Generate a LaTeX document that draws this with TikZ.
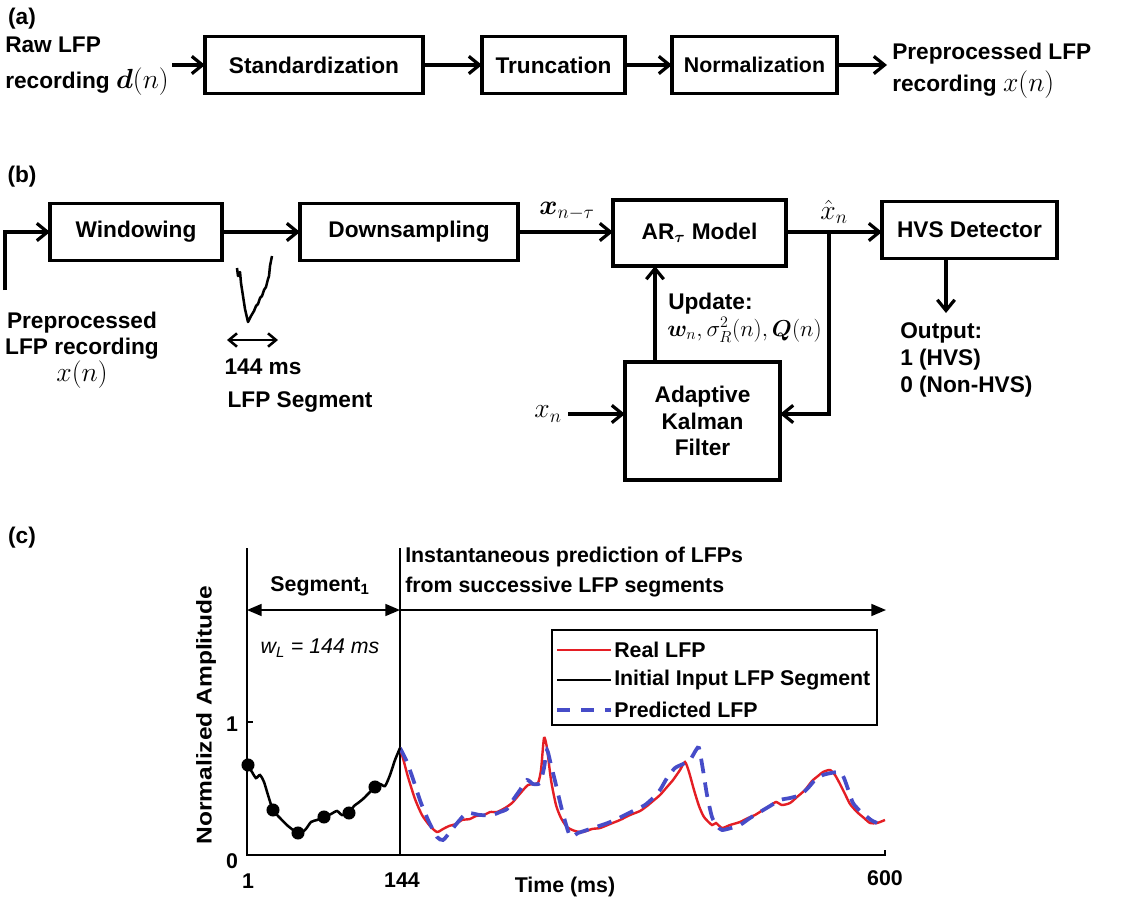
\documentclass[tikz,border=0pt]{standalone}
\usepackage{amsmath,bm}
\usepackage{fontspec}
\setmainfont{Liberation Sans}
\usetikzlibrary{arrows.meta,calc}
\definecolor{lfpred}{RGB}{228,30,36}
\definecolor{lfpblue}{RGB}{70,76,200}
\tikzset{
  blk/.style={draw, line width=2.4pt, inner sep=0pt, outer sep=0pt, font=\fontsize{17}{20}\selectfont\bfseries},
  arr/.style={line width=2.4pt, -{Straight Barb[length=8pt,width=13pt]}},
  lbl/.style={inner sep=0pt, font=\fontsize{17}{20}\selectfont\bfseries},
  lblc/.style={inner sep=0pt, font=\fontsize{16}{19}\selectfont\bfseries},
  mth/.style={inner sep=0pt, font=\fontsize{20}{22}\selectfont},
  axisline/.style={line width=1.2pt},
  tri/.style={line width=1.2pt, -{Triangle[length=11pt,width=9pt]}},
  dtri/.style={line width=1.2pt, {Triangle[length=11pt,width=9pt]}-{Triangle[length=11pt,width=9pt]}},
  realc/.style={lfpred, line width=1.8pt},
  predc/.style={lfpblue, line width=2.8pt, dash pattern=on 11pt off 7pt},
  inic/.style={black, line width=1.9pt}
}
\begin{document}
\begin{tikzpicture}[x=0.75pt,y=-0.75pt]
\useasboundingbox (0,0) rectangle (1142,903);
\fill[white] (0,0) rectangle (1142,903);

% ---------------- (a)
\node[lbl] (la) at (22,19) {(a)};
\node[lbl, align=left, anchor=west, font=\fontsize{17}{27}\selectfont\bfseries] (raw) at (5,66) {Raw LFP\\recording {\fontsize{20}{22}\selectfont$\bm{d}(n)$}};
\coordinate (rawend) at (172,65);
\node[blk, minimum width=163.5pt, minimum height=42.75pt] (std) at (314,65) {Standardization};
\node[blk, minimum width=107.25pt, minimum height=42.75pt] (trunc) at (553.5,65) {Truncation};
\node[blk, minimum width=123.75pt, minimum height=42.75pt, font=\fontsize{16}{19}\selectfont\bfseries] (norm) at (754.5,65) {Normalization};
\coordinate (preend) at (887,65);
\node[lbl, align=left, anchor=west, font=\fontsize{17}{24}\selectfont\bfseries] (pre) at (892,71) {Preprocessed LFP\\recording {\fontsize{20}{22}\selectfont$x(n)$}};
\draw[arr] (rawend) -- (std);
\draw[arr] (std) -- (trunc);
\draw[arr] (trunc) -- (norm);
\draw[arr] (norm) -- (preend);

% ---------------- (b)
\node[lbl] (lb) at (22,177) {(b)};
\node[blk, minimum width=129pt, minimum height=42.75pt] (win) at (136,232) {Windowing};
\node[blk, minimum width=163.5pt, minimum height=42.75pt] (down) at (409,232) {Downsampling};
\node[blk, minimum width=129.75pt, minimum height=49.5pt] (ar) at (699.5,233) {AR$_{\bm{\tau}}$ Model};
\node[blk, minimum width=131.25pt, minimum height=42.75pt] (hvs) at (969.5,230) {HVS Detector};
\node[blk, minimum width=116.25pt, minimum height=88.5pt, align=center, font=\fontsize{17}{20}\selectfont\bfseries] (kal) at (702.5,421) {Adaptive\\Kalman\\Filter};

\coordinate (inb) at (5,290);
\draw[arr] (inb) |- (win.west);
\node[lbl, align=center, font=\fontsize{17}{20}\selectfont\bfseries] (prein) at (82,350) {Preprocessed\\LFP recording\\{\fontsize{20}{22}\selectfont$x(n)$}};

\draw[arr] (win) -- (down);
\coordinate (artip) at (613,232);
\draw[arr] (down.east) -- (artip);
\node[mth] (xtau) at (567,211) {$\bm{x}_{n-\tau}$};
\coordinate (junc) at (829,232);
\draw[arr] (ar.east |- junc) -- (hvs.west |- junc);
\node[mth] (xhat) at (834,212) {$\hat{x}_n$};
\coordinate (xnstart) at (568,414);
\draw[line width=2.4pt, -{Straight Barb[length=8pt,width=13pt]}, line join=miter] (junc) -- (junc |- xnstart) -- (kal.east |- xnstart);

\node[mth] (xn) at (548,414) {$x_n$};
\draw[arr] (xnstart) -- (kal.west |- xnstart);

\path (kal.north) ++(-47.5,0) coordinate (kup);
\draw[arr] (kup) -- (kup |- ar.south);
\node[lbl, anchor=west] (upd) at (668,304) {Update:};
\node[inner sep=0pt, anchor=west, font=\fontsize{18}{20}\selectfont] (updv) at (667,330) {$\bm{w}_n, \sigma_R^2(n), \bm{Q}(n)$};

\coordinate (outtop) at (946,313);
\draw[arr] (hvs.south -| outtop) -- (outtop);
\node[lbl, align=left, anchor=west, font=\fontsize{17}{20}\selectfont\bfseries] (out) at (900,360) {Output:\\1 (HVS)\\0 (Non-HVS)};

% LFP segment sketch
\draw[line width=1.9pt, line join=round] (237,268) -- (238,276) -- (240,272) -- (241,283) -- (243,296) -- (245,309) -- (248,322) -- (251,316) -- (254,311) -- (256,306) -- (258,304) -- (260,298) -- (262,296) -- (264,290) -- (266,287) -- (268,279) -- (269,276) -- (270,266) -- (272,256);
\coordinate (segl) at (227,340);
\coordinate (segr) at (278,340);
\draw[line width=1.9pt, {Straight Barb[length=6pt,width=10pt]}-{Straight Barb[length=6pt,width=10pt]}] (segl) -- (segr);
\node[lbl] (ms) at (263,367) {144 ms};
\node[lbl] (lfpseg) at (300,402) {LFP Segment};

% ---------------- (c)
\node[lbl] (lc) at (22,538) {(c)};
% axes
\draw[axisline] (247,548) -- (247,855) -- (885,855) -- (885,850);
\draw[axisline] (400,548) -- (400,855);
\draw[axisline] (247,722) -- (253,722);
\coordinate (sa) at (247,610);
\coordinate (sb) at (400,610);
\coordinate (se) at (886,610);
\draw[dtri] (sa) -- (sb);
\draw[tri] (sb) -- (se);
\node[lblc] (seg1) at (320,586) {Segment\textsubscript{1}};
\node[lblc, align=left, anchor=west, font=\fontsize{16}{22}\selectfont\bfseries] (inst) at (405,572) {Instantaneous prediction of LFPs\\from successive LFP segments};
\node[inner sep=0pt, font=\fontsize{16}{19}\selectfont\itshape] (wl) at (320,648) {w\textsubscript{L} = 144 ms};

% tick labels
\node[lblc] (y1) at (232,724) {1};
\node[lblc] (y0) at (232,861) {0};
\node[lblc] (x1) at (248,881) {1};
\node[lblc] (x144) at (402,880) {144};
\node[lblc] (x600) at (885,878) {600};
\node[lblc] (xl) at (565,887) {Time (ms)};
\node[lblc, rotate=90] (yl) at (206,715) {\scalebox{1.15}[1]{Normalized Amplitude}};

% curves
\draw[realc] plot[smooth, tension=0.4] coordinates {(400,748) (404,762) (408,777) (415,799) (422,815) (430,826) (437,832) (443,829) (449,826) (456,824) (462,820) (470,819) (476,816) (484,815) (490,812) (497,812) (505,808) (512,803) (518,796) (524,789) (528,785) (533,784) (538,783) (541,770) (544,738) (547,748) (551,780) (556,805) (561,818) (567,827) (575,831) (583,832) (592,829) (600,828) (610,824) (620,820) (630,815) (640,811) (647,806) (653,801) (660,795) (667,787) (673,780) (680,770) (685,762) (689,772) (694,790) (699,806) (704,817) (712,825) (716,823) (722,828) (730,825) (740,822) (748,818) (755,815) (763,810) (770,806) (776,802) (782,805) (790,803) (797,797) (805,790) (812,781) (818,776) (823,772) (830,770) (835,775) (840,784) (845,794) (850,804) (857,812) (864,818) (870,823) (877,823) (885,820)};
\draw[predc] plot[smooth, tension=0.4] coordinates {(400,748) (407,762) (414,782) (421,803) (429,822) (437,837) (443,840) (450,832) (458,822) (467,813) (480,815) (492,815) (500,812) (507,809) (513,800) (520,790) (527,780) (533,784) (540,783) (544,768) (547,750) (551,765) (556,785) (562,810) (570,836) (578,833) (587,830) (596,827) (605,824) (615,820) (625,815) (635,810) (645,805) (653,798) (660,790) (667,778) (675,768) (683,764) (690,760) (696,750) (699,748) (703,770) (707,795) (712,817) (717,826) (722,830) (731,828) (740,825) (750,818) (760,812) (770,806) (780,800) (790,798) (800,795) (808,788) (815,780) (823,775) (831,773) (840,772) (844,778) (849,792) (853,803) (859,810) (865,815) (871,820) (877,823)};
\draw[inic] plot[smooth, tension=0.4] coordinates {(248,765) (252,772) (256,778) (260,775) (264,782) (268,795) (273,810) (280,818) (288,826) (298,833) (305,830) (311,822) (317,820) (324,817) (331,814) (337,811) (342,815) (349,813) (354,806) (358,803) (363,799) (367,795) (371,791) (375,787) (380,784) (385,786) (390,775) (395,760) (400,748)};
\foreach \px/\py in {248/765, 273/810, 298/833, 324/817, 349/813, 375/787}
  \fill (\px,\py) circle[radius=4.9pt];

% legend
\draw[line width=0.8pt, fill=white] (552,630) rectangle (877,725);
\coordinate (lr1) at (557,650); \coordinate (lr2) at (611,650);
\coordinate (lk1) at (557,680); \coordinate (lk2) at (611,680);
\coordinate (lb1) at (557,710); \coordinate (lb2) at (611,710);
\draw[realc] (lr1) -- (lr2);
\draw[inic] (lk1) -- (lk2);
\draw[predc, dash pattern=on 10pt off 8pt] (lb1) -- (lb2);
\node[lblc, anchor=west] (legr) at (614,650) {Real LFP};
\node[lblc, anchor=west] (legk) at (614,680) {Initial Input LFP Segment};
\node[lblc, anchor=west] (legb) at (614,710) {Predicted LFP};
\end{tikzpicture}
\end{document}
